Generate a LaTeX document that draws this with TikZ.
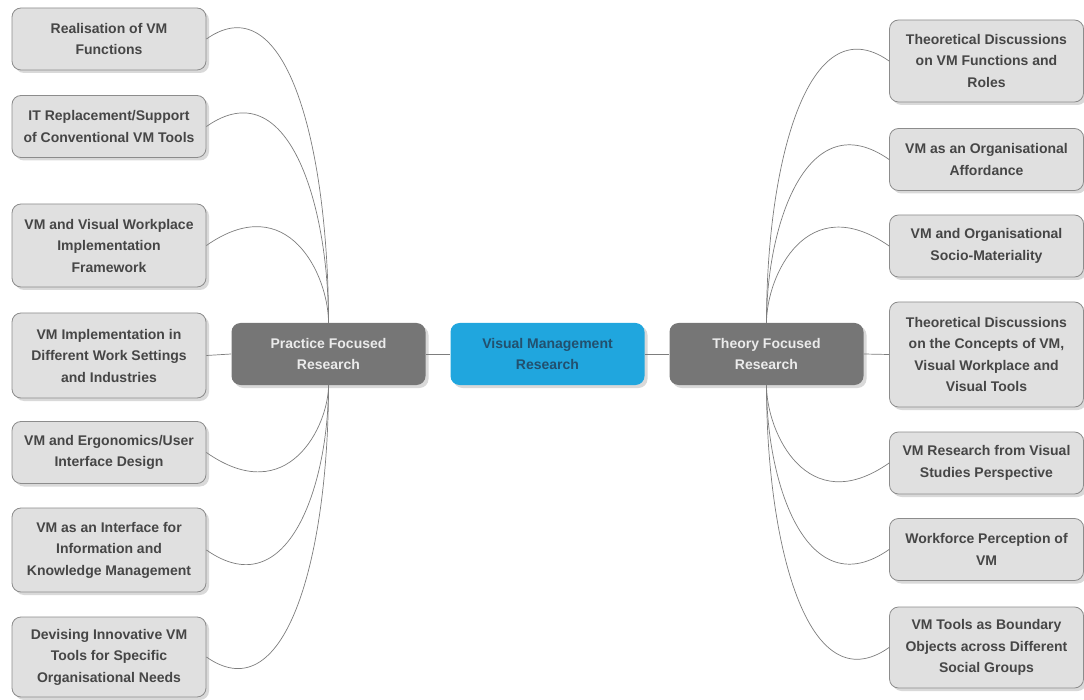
\documentclass[tikz,border=0pt]{standalone}
\usepackage{fontspec}
\setmainfont{Liberation Sans}
\usetikzlibrary{shadows}
\definecolor{leafColor}{RGB}{224,224,224}
\definecolor{leafLine}{RGB}{140,140,140}
\definecolor{leafText}{RGB}{70,70,70}
\definecolor{hubColor}{RGB}{118,118,118}
\definecolor{rootColor}{RGB}{32,166,222}
\definecolor{rootText}{RGB}{34,80,110}
\definecolor{linkColor}{RGB}{125,125,125}

\begin{document}
\begin{tikzpicture}[
        x=1pt, y=1pt,
        leaf/.style={rectangle, draw=leafLine, line width=0.8pt, fill=leafColor, rounded corners=9pt, minimum width=194pt, minimum height=62pt, align=center, inner sep=0pt, text=leafText, font=\fontsize{14}{21.5}\selectfont\bfseries, drop shadow={shadow xshift=3pt, shadow yshift=-3pt, opacity=0.3, fill=black!50}},
        hub/.style={leaf, draw=none, fill=hubColor, text=white!92!black},
        root/.style={leaf, draw=none, fill=rootColor, text=rootText},
        link/.style={draw=linkColor, line width=0.7pt}
    ]
        \useasboundingbox (0,0) rectangle (1084,-700);

        % Centre and the two branches
        \node[root] (root) at (547.5,-354) {Visual Management\\Research};
        \node[hub] (practice) at (328.5,-354) {Practice Focused\\Research};
        \node[hub] (theory) at (766.5,-354) {Theory Focused\\Research};

        % Practice side
        \node[leaf] (functions) at (109,-39) {Realisation of VM\\Functions};
        \node[leaf] (itsupport) at (109,-126.5) {IT Replacement/Support\\of Conventional VM Tools};
        \node[leaf, minimum height=83pt] (framework) at (109,-245.5) {VM and Visual Workplace\\Implementation\\Framework};
        \node[leaf, minimum height=85pt] (settings) at (109,-355.5) {VM Implementation in\\Different Work Settings\\and Industries};
        \node[leaf] (ergonomics) at (109,-452.5) {VM and Ergonomics/User\\Interface Design};
        \node[leaf, minimum height=84pt] (knowledge) at (109,-550) {VM as an Interface for\\Information and\\Knowledge Management};
        \node[leaf, minimum height=80pt] (innovative) at (109,-657) {Devising Innovative VM\\Tools for Specific\\Organisational Needs};

        % Theory side
        \node[leaf, minimum height=82pt] (roles) at (986.5,-61) {Theoretical Discussions\\on VM Functions and\\Roles};
        \node[leaf] (affordance) at (986.5,-159.5) {VM as an Organisational\\Affordance};
        \node[leaf] (materiality) at (986.5,-246) {VM and Organisational\\Socio-Materiality};
        \node[leaf, minimum height=105pt] (concepts) at (986.5,-354.5) {Theoretical Discussions\\on the Concepts of VM,\\Visual Workplace and\\Visual Tools};
        \node[leaf] (studies) at (986.5,-463) {VM Research from Visual\\Studies Perspective};
        \node[leaf] (perception) at (986.5,-549.5) {Workforce Perception of\\VM};
        \node[leaf, minimum height=81pt] (boundary) at (986.5,-647.5) {VM Tools as Boundary\\Objects across Different\\Social Groups};

        % Straight links
        \draw[link] (practice) -- (root);
        \draw[link] (root) -- (theory);
        \draw[link] (settings.east) -- (practice.west);
        \draw[link] (theory.east) -- (concepts.west);

        % Curved links, practice side
        \draw[link] (functions.east) .. controls +(35:100) and +(0,170) .. (practice.north);
        \draw[link] (itsupport.east) .. controls +(35:100) and +(0,118) .. (practice.north);
        \draw[link] (framework.east) .. controls +(35:100) and +(0,47) .. (practice.north);
        \draw[link] (ergonomics.east) .. controls +(-35:100) and +(0,-40) .. (practice.south);
        \draw[link] (knowledge.east) .. controls +(-35:100) and +(0,-99) .. (practice.south);
        \draw[link] (innovative.east) .. controls +(-35:100) and +(0,-163) .. (practice.south);

        % Curved links, theory side
        \draw[link] (roles.west) .. controls +(145:100) and +(0,157) .. (theory.north);
        \draw[link] (affordance.west) .. controls +(145:100) and +(0,98) .. (theory.north);
        \draw[link] (materiality.west) .. controls +(145:100) and +(0,47) .. (theory.north);
        \draw[link] (studies.west) .. controls +(-145:100) and +(0,-47) .. (theory.south);
        \draw[link] (perception.west) .. controls +(-145:100) and +(0,-99) .. (theory.south);
        \draw[link] (boundary.west) .. controls +(-145:100) and +(0,-157) .. (theory.south);
    \end{tikzpicture}
\end{document}
